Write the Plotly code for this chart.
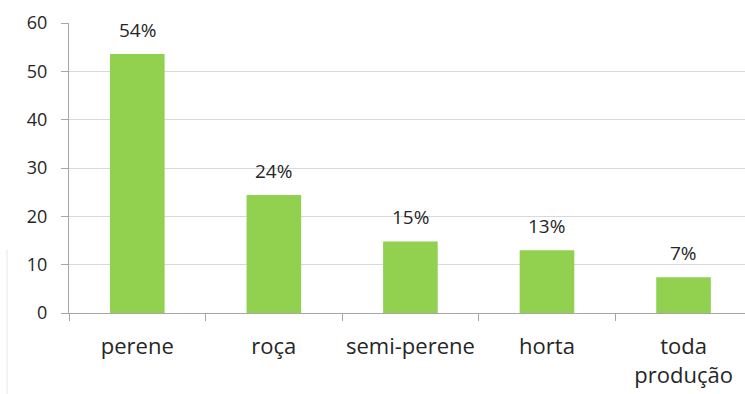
import plotly.graph_objects as go

# Share of production by crop type
categories = ["perene", "roça", "semi-perene", "horta", "toda<br>produção"]
values = [53.6, 24.4, 14.8, 13.0, 7.4]
y_ticks = [0, 10, 20, 30, 40, 50, 60]

BAR_GREEN = "#92D050"
GRID = "#D9D9D9"
AXIS = "#A6A6A6"
TEXT = "#262626"
FONT = "Open Sans"

fig = go.Figure(
    go.Bar(
        x=categories,
        y=values,
        width=0.40,
        marker=dict(color=BAR_GREEN, line=dict(width=0)),
        hoverinfo="skip",
    )
)

# Percentage labels above each bar
for cat, val in zip(categories, values):
    fig.add_annotation(
        x=cat, y=val, text=f"{val:.0f}%",
        showarrow=False, yanchor="bottom", yshift=9,
        font=dict(family=FONT, size=19, color=TEXT),
    )

# Thin stray rule at the far left edge
fig.add_shape(
    type="line", xref="paper", yref="paper",
    x0=-62 / 676, x1=-62 / 676, y0=-81 / 290, y1=(313 - 250) / 290,
    line=dict(color="#E6E6E6", width=1),
)

fig.update_layout(
    width=745, height=394,
    margin=dict(l=69, r=0, t=23, b=81),
    paper_bgcolor="white", plot_bgcolor="white",
    showlegend=False,
    font=dict(family=FONT, color=TEXT),
    xaxis=dict(
        range=[-0.5, 4.45],
        showgrid=False,
        showline=True, linecolor=AXIS, linewidth=1,
        ticks="outside", tickson="boundaries", ticklen=7, tickcolor=AXIS,
        tickfont=dict(family=FONT, size=22, color=TEXT),
        tickangle=0,
        ticklabelstandoff=14,
        automargin=False,
        fixedrange=True,
    ),
    yaxis=dict(
        range=[0, 60],
        tickvals=y_ticks,
        showgrid=True, gridcolor=GRID, gridwidth=1,
        showline=True, linecolor=AXIS, linewidth=1,
        ticks="outside", ticklen=7, tickcolor=AXIS,
        tickfont=dict(family=FONT, size=18, color=TEXT),
        ticklabelstandoff=10,
        automargin=False,
        zeroline=False,
        fixedrange=True,
    ),
)

fig.write_html("out.html")
